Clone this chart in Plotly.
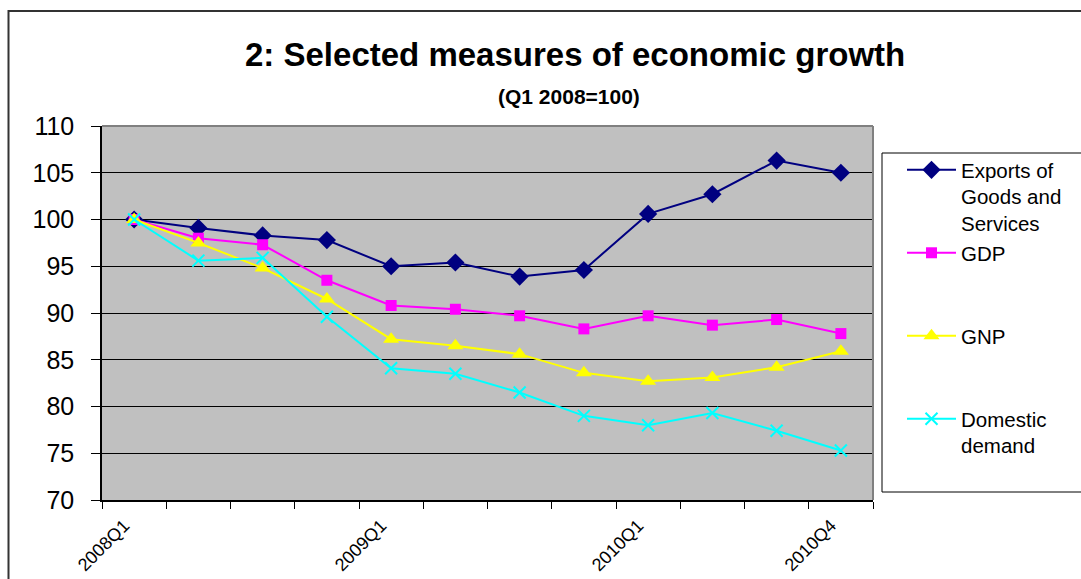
import plotly.graph_objects as go

categories = ["2008Q1", "2008Q2", "2008Q3", "2008Q4",
              "2009Q1", "2009Q2", "2009Q3", "2009Q4",
              "2010Q1", "2010Q2", "2010Q3", "2010Q4"]
tick_labels = ["2008Q1", "", "", "", "2009Q1", "", "", "", "2010Q1", "", "", "2010Q4"]

exports = [100, 99.1, 98.3, 97.8, 95.0, 95.4, 93.9, 94.6, 100.6, 102.7, 106.3, 105.0]
gdp = [100, 98.0, 97.3, 93.5, 90.8, 90.4, 89.7, 88.3, 89.7, 88.7, 89.3, 87.8]
gnp = [100, 97.5, 94.8, 91.5, 87.2, 86.5, 85.6, 83.6, 82.7, 83.1, 84.2, 85.9]
domestic = [100, 95.6, 95.9, 89.6, 84.1, 83.5, 81.5, 79.0, 78.0, 79.3, 77.4, 75.3]

series = [
    ("Exports of<br>Goods and<br>Services", exports, "#000080", "diamond", 14),
    ("GDP<br> <br> ", gdp, "#FF00FF", "square", 11),
    ("GNP<br> <br> ", gnp, "#FFFF00", "triangle-up", 14),
    ("Domestic<br>demand<br> ", domestic, "#00FFFF", "x-thin-open", 12),
]

FONT = "Arial, Liberation Sans, sans-serif"
W, H = 1081, 579
L, R, T, B = 102, 873, 126, 500
pw, ph = R - L, B - T


def px_x(x):
    return (x - L) / pw


def px_y(y):
    return (B - y) / ph


fig = go.Figure()
for name, vals, color, sym, size in series:
    marker = dict(symbol=sym, size=size, color=color)
    if sym.startswith("x-thin"):
        marker["line"] = dict(color=color, width=2)
    fig.add_trace(go.Scatter(
        x=categories, y=vals, name=name, mode="lines+markers",
        line=dict(color=color, width=2), marker=marker,
    ))

shapes = [
    # outer chart border
    dict(type="rect", xref="paper", yref="paper",
         x0=px_x(8.5), x1=px_x(1200), y0=px_y(700), y1=px_y(11),
         line=dict(color="#333333", width=2), layer="below"),
    # plot area top/right border
    dict(type="line", xref="paper", yref="paper",
         x0=0, x1=1, y0=1, y1=1, line=dict(color="#808080", width=2)),
    dict(type="line", xref="paper", yref="paper",
         x0=1, x1=1, y0=0, y1=1, line=dict(color="#808080", width=2)),
    # legend box
    dict(type="rect", xref="paper", yref="paper",
         x0=px_x(882), x1=px_x(1200), y0=px_y(492), y1=px_y(153),
         line=dict(color="black", width=1)),
]

fig.update_layout(
    width=W, height=H,
    margin=dict(l=L, r=W - R, t=T, b=H - B, pad=0, autoexpand=False),
    paper_bgcolor="white",
    plot_bgcolor="#C0C0C0",
    font=dict(family=FONT, color="black"),
    showlegend=True,
    legend=dict(
        x=px_x(902), y=px_y(150), xanchor="left", yanchor="top",
        bgcolor="rgba(0,0,0,0)", borderwidth=0,
        font=dict(family=FONT, size=20.5, color="black"),
        valign="top", tracegroupgap=2, itemwidth=49,
    ),
    shapes=shapes,
    annotations=[
        dict(text="<b>2: Selected measures of economic growth</b>",
             xref="paper", yref="paper", x=px_x(575), y=px_y(55),
             xanchor="center", yanchor="middle", showarrow=False,
             font=dict(family=FONT, size=33, color="black")),
        dict(text="<b>(Q1 2008=100)</b>",
             xref="paper", yref="paper", x=px_x(569), y=px_y(97),
             xanchor="center", yanchor="middle", showarrow=False,
             font=dict(family=FONT, size=21, color="black")),
    ],
)

fig.update_xaxes(
    type="category", categoryorder="array", categoryarray=categories,
    range=[-0.5, len(categories) - 0.5], automargin=False,
    tickmode="array", tickvals=categories, ticktext=tick_labels,
    tickson="boundaries", ticks="outside", ticklen=7, tickcolor="black",
    tickangle=-45, tickfont=dict(family=FONT, size=18, color="black"),
    ticklabelstandoff=6, ticklabelshift=-10,
    showline=True, linecolor="black", linewidth=2,
    showgrid=False, zeroline=False,
)
fig.update_yaxes(
    range=[70, 110], tickmode="array", tickvals=list(range(70, 111, 5)),
    automargin=False,
    ticks="outside", ticklen=9, tickcolor="black",
    tickfont=dict(family=FONT, size=25, color="black"),
    ticklabelstandoff=12,
    showline=True, linecolor="black", linewidth=1.5,
    showgrid=True, gridcolor="black", gridwidth=1, zeroline=False,
)

fig.write_html("out.html")
